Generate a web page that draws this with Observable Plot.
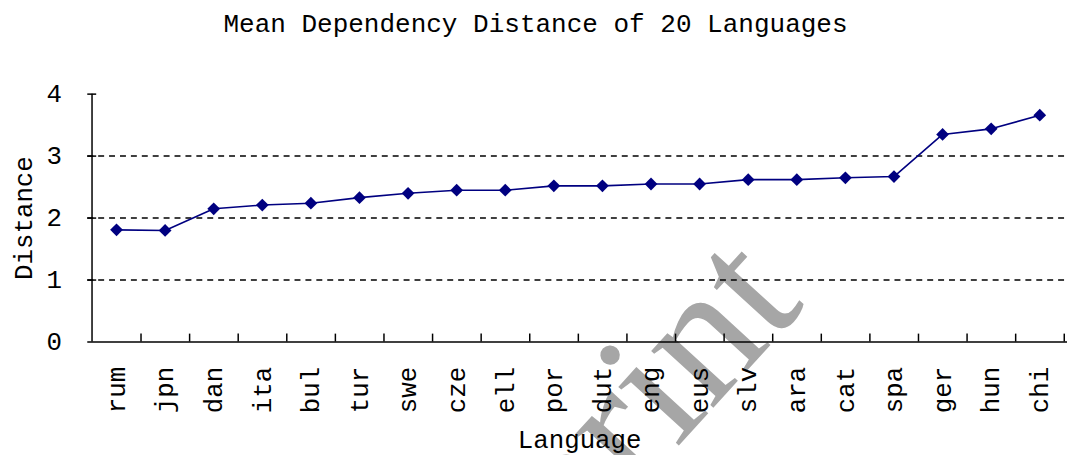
<!DOCTYPE html>
<html>
<head>
<meta charset="utf-8">
<script src="https://cdn.jsdelivr.net/npm/d3@7"></script>
<script src="https://cdn.jsdelivr.net/npm/@observablehq/plot@0.6"></script>
<style>
html, body { margin: 0; padding: 0; background: #fff; overflow: hidden; width: 1071px; height: 455px; }
#title { width: 1071px; height: 50px; line-height: 50px; text-align: center; font-family: "Liberation Mono", "DejaVu Sans Mono", monospace; font-size: 26px; color: #000; white-space: nowrap; }
#chart { position: relative; }
</style>
</head>
<body>
<div id="title"></div>
<div id="chart"></div>
<script>
// ---- data ----
const titleText = "Mean Dependency Distance of 20 Languages";
const xLabel = "Language";
const yLabel = "Distance";
const watermark = "Preprint";
const languages = ["rum","jpn","dan","ita","bul","tur","swe","cze","ell","por","dut","eng","eus","slv","ara","cat","spa","ger","hun","chi"];
const distances = [1.81, 1.80, 2.15, 2.21, 2.24, 2.33, 2.40, 2.45, 2.45, 2.52, 2.52, 2.55, 2.55, 2.62, 2.62, 2.65, 2.67, 3.35, 3.44, 3.66];
const yTicks = [0, 1, 2, 3, 4];
const gridValues = [1, 2, 3];

document.getElementById("title").textContent = titleText;

const W = 1080, H = 405, ML = 88, MR = 4, MT = 44, MB = 111;
const plotW = W - ML - MR, plotH = H - MT - MB;
const step = plotW / languages.length;
const table = languages.map((lang, i) => ({lang, d: distances[i]}));
const navy = "#000080";

const chart = Plot.plot({
  width: W, height: H,
  marginLeft: ML, marginRight: MR, marginTop: MT, marginBottom: MB,
  style: {fontFamily: '"Liberation Mono", "DejaVu Sans Mono", monospace', fontSize: "26px", color: "#000", background: "#fff", overflow: "visible"},
  x: {type: "point", domain: languages, padding: 0.5, align: 0.5},
  y: {domain: [0, 4], ticks: yTicks},
  marks: [
    Plot.text([watermark], {frameAnchor: "top-left", dx: 725, dy: 213, rotate: -47.6, textAnchor: "end", lineAnchor: "bottom", fontSize: 185, fontFamily: '"Liberation Serif", serif', fill: "#a6a6a6"}),
    Plot.ruleY(gridValues, {stroke: "#000", strokeWidth: 1.5, strokeDasharray: "6,5"}),
    Plot.tickY(yTicks.filter(d => d > 0), {stroke: "#000", strokeWidth: 1.5, insetRight: plotW - 9}),
    Plot.tickX(languages, {dx: step / 2, stroke: "#000", strokeWidth: 1.5, insetTop: plotH - 8}),
    Plot.ruleY([0], {stroke: "#000", strokeWidth: 1.5}),
    Plot.ruleX([languages[0]], {dx: -step / 2, stroke: "#000", strokeWidth: 1.5}),
    Plot.axisY({ticks: yTicks, tickFormat: d => String(d), tickSize: 0, tickPadding: 26, label: null}),
    Plot.axisX({tickSize: 0, tickPadding: 25, tickRotate: -90, label: null}),
    Plot.text([yLabel], {frameAnchor: "left", rotate: -90, dx: -65, textAnchor: "middle", lineAnchor: "middle"}),
    Plot.text([xLabel], {frameAnchor: "bottom", dx: 2, dy: 107, textAnchor: "middle", lineAnchor: "bottom"}),
    Plot.line(table, {x: "lang", y: "d", stroke: navy, strokeWidth: 1.6}),
    Plot.dot(table, {x: "lang", y: "d", symbol: "diamond2", r: 5.8, fill: navy, stroke: "none"})
  ]
});
document.getElementById("chart").appendChild(chart);
</script>
</body>
</html>
